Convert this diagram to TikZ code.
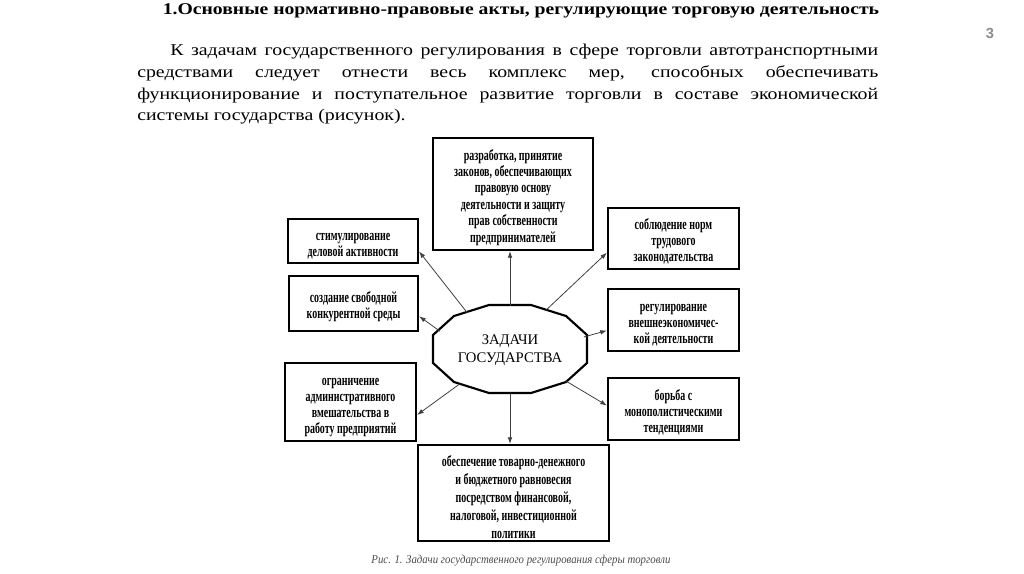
\documentclass[tikz,border=0pt]{standalone}
\usepackage{fontspec}
\setmainfont{Liberation Serif}
\newfontfamily\numfont{Liberation Sans}
\newfontfamily\widefont[FakeStretch=1.2]{Liberation Serif}
\newfontfamily\boxfont[FakeStretch=0.65]{Liberation Serif}
\newfontfamily\capfont[FakeStretch=0.9]{Liberation Serif}
\usetikzlibrary{arrows.meta, positioning, shapes.geometric, calc}

\begin{document}
\begin{tikzpicture}[x=0.75pt, y=-0.75pt,
  task/.style={draw, line width=1.6pt, align=center, inner sep=0pt,
    font=\boxfont\bfseries\fontsize{11.5}{12}\selectfont},
  arr/.style={draw=black!75, line width=0.6pt, -{Latex[length=5pt,width=3.5pt]}}
]
  \useasboundingbox (0,0) rectangle (1024,574);

  % heading and text
  \node[font=\widefont\bfseries\fontsize{12.3}{15}\selectfont] (title) at (521,11)
    {1.Основные нормативно-правовые акты, регулирующие торговую деятельность};
  \node[font=\numfont\bfseries\fontsize{11}{13}\selectfont, text=black!45] (page) at (990,33) {3};
  \node[anchor=north west, inner sep=0pt, text width=555.75pt, align=justify,
    font=\widefont\fontsize{12.4}{16.3}\selectfont] (intro) at (137,44)
    {\hspace*{24.75pt}К задачам государственного регулирования в сфере торговли автотранспортными\linebreak
     средствами следует отнести весь комплекс мер, способных обеспечивать\linebreak
     функционирование и поступательное развитие торговли в составе экономической\linebreak
     системы государства (рисунок).\par};

  % centre
  \node[ellipse, minimum width=115.5pt, minimum height=66pt, inner sep=0pt, align=center,
    font=\fontsize{11}{13.5}\selectfont] (zad) at (510,350) {ЗАДАЧИ\\ГОСУДАРСТВА};
  \draw[line width=1.6pt, shift={(zad)}] (-21,-45) -- (21,-45) -- (56,-34) -- (77,-15)
    -- (77,13) -- (56,32) -- (21,43) -- (-21,43) -- (-56,32) -- (-77,13)
    -- (-77,-15) -- (-56,-34) -- cycle;

  % tasks
  \node[task, minimum width=120pt, minimum height=84pt, font=\boxfont\bfseries\fontsize{11.5}{12.3}\selectfont] (razr) at (513,194)
    {\rule{0pt}{13pt}разработка, принятие\\законов, обеспечивающих\\правовую основу\\деятельности и защиту\\прав собственности\\предпринимателей};
  \node[task, minimum width=97.5pt, minimum height=33pt] (stim) at (353,241)
    {\rule{0pt}{13pt}стимулирование\\деловой активности};
  \node[task, minimum width=98.25pt, minimum height=45.75pt] (sobl) at (673.5,238.5)
    {\rule{0pt}{13pt}соблюдение норм\\трудового\\законодательства};
  \node[task, minimum width=96.75pt, minimum height=41.25pt] (sozd) at (353.5,303.5)
    {\rule{0pt}{13pt}создание свободной\\конкурентной среды};
  \node[task, minimum width=98.25pt, minimum height=46.5pt] (regul) at (673.5,320)
    {\rule{0pt}{13pt}регулирование\\внешнеэкономичес-\\кой деятельности};
  \node[task, minimum width=98.25pt, minimum height=58.5pt] (ogr) at (350.5,402)
    {\rule{0pt}{13pt}ограничение\\административного\\вмешательства в\\работу предприятий};
  \node[task, minimum width=98.25pt, minimum height=46.5pt] (borb) at (673.5,409)
    {\rule{0pt}{13pt}борьба с\\монополистическими\\тенденциями};
  \node[task, minimum width=143.25pt, minimum height=72pt, font=\boxfont\bfseries\fontsize{11.5}{13.5}\selectfont] (obesp) at (513.5,493)
    {\rule{0pt}{14pt}обеспечение товарно-денежного\\и бюджетного равновесия\\посредством финансовой,\\налоговой, инвестиционной\\политики};

  % arrows
  \draw[arr] (zad.north) -- (zad.north |- razr.south);
  \draw[arr] (zad.139) -- (stim.-9);
  \draw[arr] (zad.48) -- (sobl.192);
  \draw[arr] (zad.165) -- (sozd.-11);
  \draw[arr] (zad.10) -- (regul.189);
  \draw[arr] (zad.214) -- (ogr.-11);
  \draw[arr] (zad.-29) -- (borb.177);
  \draw[arr] (zad.south) -- (zad.south |- obesp.north);

  \node[font=\capfont\itshape\fontsize{9}{10}\selectfont, text=black!70] (caption) at (521,561)
    {Рис. 1. Задачи государственного регулирования сферы торговли};
\end{tikzpicture}
\end{document}
